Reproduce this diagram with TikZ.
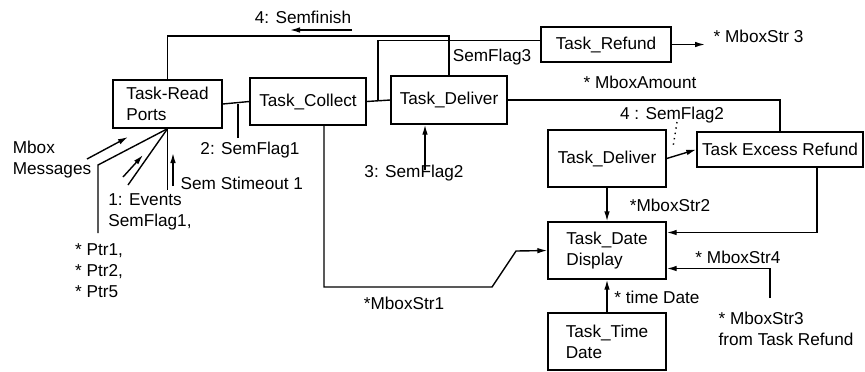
\documentclass[tikz,border=0pt]{standalone}
\usepackage{fontspec}
\setmainfont{Liberation Sans}
\usetikzlibrary{arrows.meta,calc}
\newcommand{\diagfont}{\fontsize{8.6}{10.5}\selectfont}

\begin{document}
\begin{tikzpicture}[x=0.5pt,y=-0.5pt,line width=0.7pt,
  task/.style={draw,rectangle,align=left,inner sep=2pt,font=\diagfont},
  lbl/.style={inner sep=0pt,align=left,font=\diagfont},
  msg/.style={-{Latex[length=5pt,width=2.8pt]}}]
\useasboundingbox (0,0) rectangle (865,371);

\node[task,minimum width=54.5pt,minimum height=24pt] (readports) at (167.5,104) {Task-Read\\Ports};
\node[task,minimum width=58pt,minimum height=23.5pt] (collect) at (308,101.5) {Task\_Collect};
\node[task,minimum width=58pt,minimum height=24pt] (deliver) at (449,100) {Task\_Deliver};
\node[task,minimum width=65pt,minimum height=17.5pt] (refund) at (606,44.5) {Task\_Refund};
\node[task,minimum width=59pt,minimum height=28.5pt] (deliverb) at (607,158.5) {Task\_Deliver};
\node[task,minimum width=83pt,minimum height=17.5pt] (excess) at (780,149.5) {Task Excess Refund};
\node[task,minimum width=59pt,minimum height=28.5pt] (datedisp) at (607,250.5) {Task\_Date\\Display};
\node[task,minimum width=59pt,minimum height=28.5pt] (timedate) at (607,341.5) {Task\_Time\\Date};

\node[lbl] (semfinish) at (303,17) {4: Semfinish};
\node[lbl] (semflagthree) at (492,57) {SemFlag3};
\node[lbl] (semflagone) at (250,150) {2: SemFlag1};
\node[lbl] (semflagtwo) at (414,173) {3: SemFlag2};
\node[lbl] (mboxamount) at (640,82) {* MboxAmount};
\node[lbl] (semflagtwob) at (672,115) {4 : SemFlag2};
\node[lbl,anchor=west] (mboxstrthree) at (713,36) {* MboxStr 3};
\node[lbl] (mboxstrtwo) at (670,205) {*MboxStr2};
\node[lbl] (mboxstrfour) at (738,257) {* MboxStr4};
\node[lbl] (timedatelbl) at (657,297) {* time Date};
\node[lbl] (mboxstrthreeb) at (786,329) {* MboxStr3\\from Task Refund};
\node[lbl] (mboxstrone) at (404,303) {*MboxStr1};
\node[lbl] (mboxmsg) at (52,160) {Mbox\\Messages};
\node[lbl,anchor=west] (stimeout) at (180,183) {Sem Stimeout 1};
\node[lbl] (events) at (150,212) {1: Events\\SemFlag1,};
\node[lbl] (ptrs) at (99,271) {* Ptr1,\\* Ptr2,\\* Ptr5};

\coordinate (topline) at (449,36);
\coordinate (jcd) at (378,101);
\coordinate (sfone) at (238,138);
\coordinate (sftwo) at (425,170);
\coordinate (refout) at (705,44.5);
\coordinate (botone) at (492,287);
\coordinate (bottwo) at (516,251);
\coordinate (strthree) at (770,298);
\coordinate (dotA) at (677,122);
\coordinate (dotB) at (673,147);
\coordinate (ptrtop) at (98,165);
\coordinate (ptrend) at (98,233);
\coordinate (evt) at (128,185);
\coordinate (stm) at (167.5,190);
\coordinate (mbA) at (87,159);
\coordinate (mbB) at (128,137);
\coordinate (evA) at (123,177);
\coordinate (evB) at (143,155);
\coordinate (stA) at (173,186);
\coordinate (stB) at (173,153);
\coordinate (sfA) at (352,30);
\coordinate (sfB) at (290,30);

\draw (readports.north) |- (topline) -- (deliver.north);
\draw (collect.east) -- (deliver.west);
\draw (jcd) |- ($(refund.west)+(0,-4)$);
\draw (readports.east) -- (collect.west);
\draw (sfone) -- (sfone |- readports.east);
\draw (deliver.east) -| (excess.north);
\draw[msg] (deliverb.east) -- (excess.west);
\draw[msg] ($(excess.south)+(37,0)$) |- ($(datedisp.east)+(0,-18)$);
\draw[msg] (strthree) |- ($(datedisp.east)+(0,18)$);
\draw[msg] (deliverb.south) -- (datedisp.north);
\draw[msg] (timedate.north) -- (datedisp.south);
\draw[msg] ($(collect.south)+(16,0)$) |- (botone) -- (bottwo) -- (datedisp.west);
\draw[msg] (sftwo) -- (sftwo |- deliver.south);
\draw[msg] (refund.east) -- (refout);
\draw[dotted] (dotA) -- (dotB);

\draw (readports.south) -- (ptrtop) -- (ptrend);
\draw (readports.south) -- (evt);
\draw (readports.south) -- (stm);
\draw[msg] (mbA) -- (mbB);
\draw[msg] (evA) -- (evB);
\draw[msg] (stA) -- (stB);
\draw[msg] (sfA) -- (sfB);
\end{tikzpicture}
\end{document}
